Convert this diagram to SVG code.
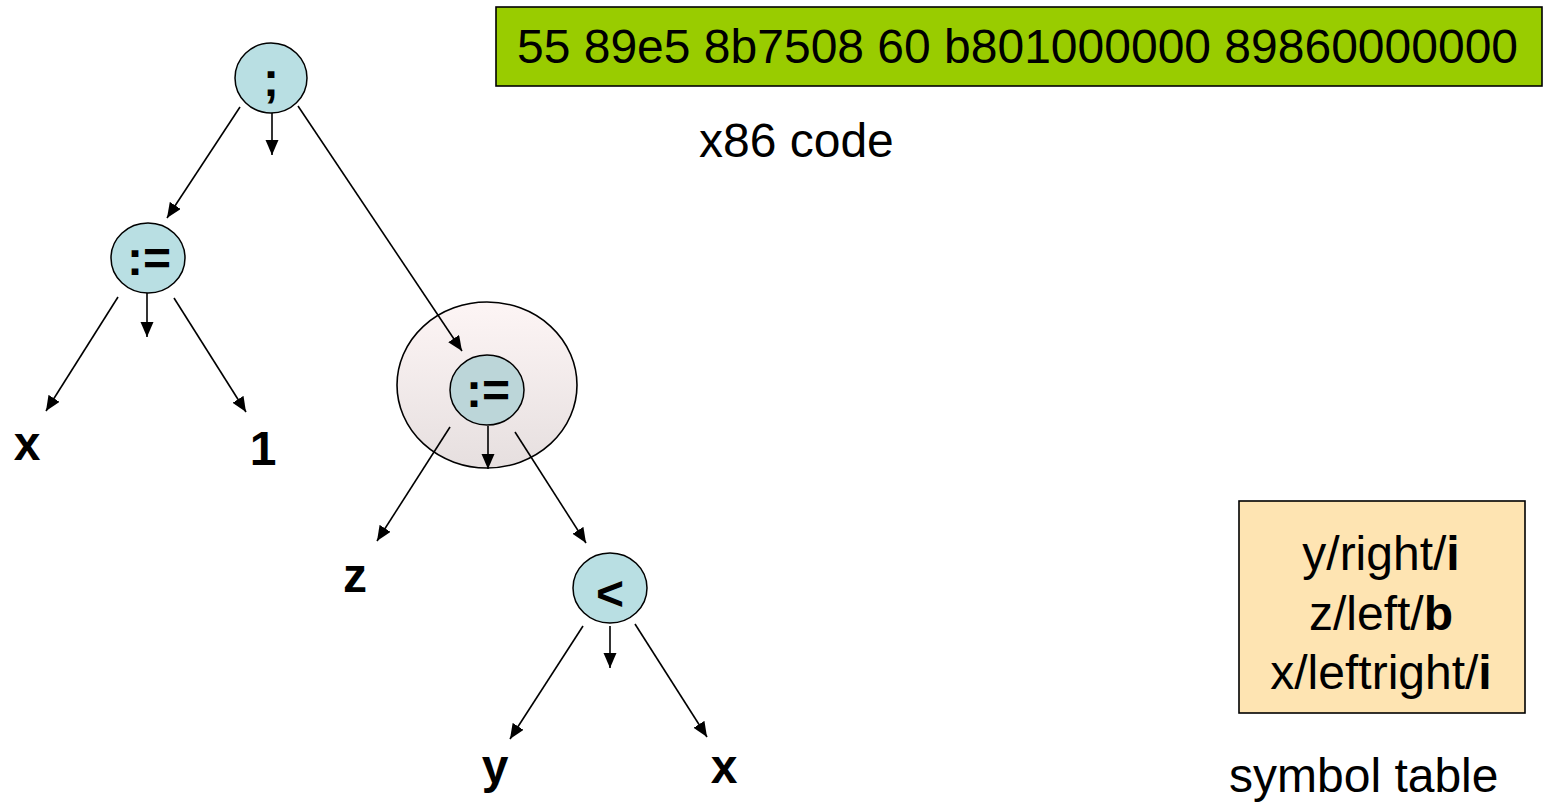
<svg xmlns="http://www.w3.org/2000/svg" width="1545" height="807" viewBox="0 0 1545 807">
<style>
text{font-family:"Liberation Sans",Arial,sans-serif;fill:#000}
.lbl{font-size:48px;font-weight:bold;text-anchor:middle}
.plain{font-size:48px}
.node{fill:#b9dfe3;stroke:#000;stroke-width:1.5}
.conn line{stroke:#000;stroke-width:1.6;marker-end:url(#ah)}
</style>
<defs>
<marker id="ah" markerUnits="userSpaceOnUse" markerWidth="16" markerHeight="14" refX="15" refY="6.5" orient="auto"><path d="M0,0 L15,6.5 L0,13 z" fill="#000"/></marker>
<linearGradient id="halo" x1="0" y1="0" x2="0" y2="1"><stop offset="0" stop-color="#fdf5f5"/><stop offset="1" stop-color="#e6dfdf"/></linearGradient>
</defs>
<rect width="1545" height="807" fill="#fff"/>
<g id="code"><rect x="496" y="7" width="1046" height="79" fill="#99cc00" stroke="#000" stroke-width="1.6"/><text class="plain" x="517" y="63">55 89e5 8b7508 60 b801000000 89860000000</text></g>
<g id="code-caption"><text class="plain" x="699" y="157">x86 code</text></g>
<g id="symtab"><rect x="1239" y="501" width="286" height="212" fill="#fee4b2" stroke="#000" stroke-width="1.6"/>
<text class="plain" text-anchor="middle" x="1381" y="570">y/right/<tspan font-weight="bold">i</tspan></text>
<text class="plain" text-anchor="middle" x="1381" y="630">z/left/<tspan font-weight="bold">b</tspan></text>
<text class="plain" text-anchor="middle" x="1381" y="689">x/leftright/<tspan font-weight="bold">i</tspan></text></g>
<g id="symtab-caption"><text class="plain" x="1229" y="792">symbol table</text></g>
<g id="halo-node"><ellipse cx="487" cy="385" rx="90" ry="83" fill="url(#halo)" stroke="#000" stroke-width="1.6"/></g>
<g id="n-seq"><ellipse class="node" cx="271" cy="78" rx="36" ry="35"/><text class="lbl" x="271" y="96">;</text></g>
<g id="n-assign1"><ellipse class="node" cx="148" cy="258" rx="37" ry="35"/><text class="lbl" x="149" y="275">:=</text></g>
<g id="n-assign2"><ellipse class="node" cx="487" cy="390" rx="37" ry="35" style="fill:#bcd6d9"/><text class="lbl" x="488" y="407">:=</text></g>
<g id="n-lt"><ellipse class="node" cx="610" cy="588" rx="37" ry="35"/><text class="lbl" x="610" y="610">&lt;</text></g>
<g id="l-x1"><text class="lbl" x="27" y="460">x</text></g>
<g id="l-1"><text class="lbl" x="263" y="465">1</text></g>
<g id="l-z"><text class="lbl" x="355" y="592">z</text></g>
<g id="l-y"><text class="lbl" x="495" y="783">y</text></g>
<g id="l-x2"><text class="lbl" x="724" y="783">x</text></g>
<g id="connectors" class="conn">
<line x1="240" y1="107" x2="167" y2="218"/>
<line x1="272" y1="113" x2="272" y2="155"/>
<line x1="298" y1="106" x2="462" y2="351"/>
<line x1="118" y1="297" x2="46" y2="411"/>
<line x1="147" y1="293" x2="147" y2="337"/>
<line x1="174" y1="298" x2="246" y2="412"/>
<line x1="450" y1="427" x2="377" y2="541"/>
<line x1="488" y1="426" x2="488" y2="469"/>
<line x1="515" y1="432" x2="586" y2="543"/>
<line x1="583" y1="626" x2="510" y2="739"/>
<line x1="610" y1="626" x2="610" y2="668"/>
<line x1="635" y1="624" x2="707" y2="737"/>
</g>
</svg>
